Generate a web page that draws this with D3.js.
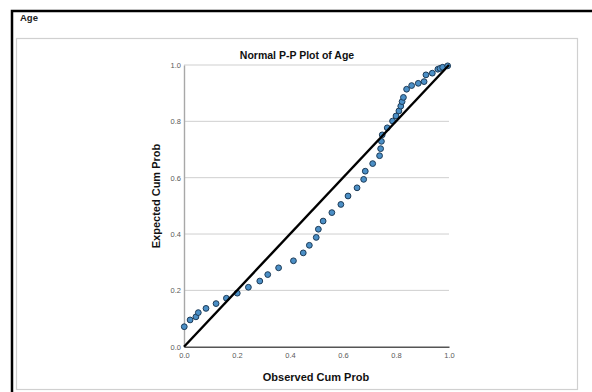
<!DOCTYPE html>
<html>
<head>
<meta charset="utf-8">
<script src="https://cdn.jsdelivr.net/npm/d3@7"></script>
<style>
  html, body { margin: 0; padding: 0; background: #fff; }
  svg { display: block; font-family: Arial, "Liberation Sans", sans-serif; }
</style>
</head>
<body>
<div id="chart"></div>
<script>
// observed cumulative probability vs expected cumulative probability
const observed = [0.001, 0.023, 0.045, 0.054, 0.083, 0.121, 0.160, 0.201, 0.243, 0.286,
    0.316, 0.357, 0.413, 0.450, 0.473, 0.499, 0.507, 0.525, 0.558, 0.592,
    0.619, 0.653, 0.678, 0.684, 0.712, 0.738, 0.742, 0.745, 0.748, 0.767,
    0.787, 0.800, 0.811, 0.818, 0.823, 0.828, 0.840, 0.859, 0.884, 0.906,
    0.913, 0.937, 0.958, 0.966, 0.976, 0.995];
const expected = [0.071, 0.095, 0.106, 0.121, 0.136, 0.153, 0.172, 0.190, 0.211, 0.233,
    0.256, 0.280, 0.305, 0.333, 0.360, 0.388, 0.417, 0.446, 0.476, 0.505,
    0.535, 0.564, 0.594, 0.623, 0.650, 0.678, 0.703, 0.729, 0.752, 0.777,
    0.801, 0.819, 0.837, 0.854, 0.870, 0.885, 0.914, 0.927, 0.935, 0.941,
    0.965, 0.971, 0.985, 0.988, 0.992, 0.997];
const ticks = [0, 0.2, 0.4, 0.6, 0.8, 1.0];
const diagonal = [0, 1];

const width = 592;
const height = 392;

const svg = d3.select("#chart")
    .append("svg")
    .attr("width", width)
    .attr("height", height);

// outer black frame (cut off at right and bottom)
svg.append("rect")
    .attr("x", 12).attr("y", 11)
    .attr("width", 600).attr("height", 400)
    .attr("fill", "#fff")
    .attr("stroke", "#000")
    .attr("stroke-width", 2.5);

svg.append("text")
    .attr("x", 20).attr("y", 21)
    .attr("font-size", 9.5)
    .attr("font-weight", "bold")
    .attr("fill", "#222")
    .text("Age");

// inner grey panel
svg.append("rect")
    .attr("x", 16.5).attr("y", 38.5)
    .attr("width", 561).attr("height", 351)
    .attr("fill", "#fff")
    .attr("stroke", "#d0d0d0")
    .attr("stroke-width", 1.2);

const x = d3.scaleLinear([0, 1], [184, 449]);
const y = d3.scaleLinear([0, 1], [346.7, 65]);

// grid lines
svg.append("g")
    .selectAll("line")
    .data(ticks.filter(d => d > 0))
    .join("line")
    .attr("x1", x(0)).attr("x2", x(1))
    .attr("y1", d => y(d)).attr("y2", d => y(d))
    .attr("stroke", "#cfcfcf")
    .attr("stroke-width", 1);

const xAxis = svg.append("g")
    .attr("transform", `translate(0,${y(0)})`)
    .call(d3.axisBottom(x).tickValues(ticks).tickFormat(d3.format(".1f")).tickSize(0).tickPadding(6));
xAxis.select(".domain").attr("stroke", "#555").attr("stroke-width", 1.4);
xAxis.selectAll("text").attr("font-size", 7.5).attr("fill", "#5a5a5a")
    .attr("font-family", "Arial, 'Liberation Sans', sans-serif");

const yAxis = svg.append("g")
    .attr("transform", `translate(${x(0)},0)`)
    .call(d3.axisLeft(y).tickValues(ticks).tickFormat(d3.format(".1f")).tickSize(0).tickPadding(3));
yAxis.select(".domain").attr("stroke", "#a8a8a8").attr("stroke-width", 1.4);
yAxis.selectAll("text").attr("font-size", 7.5).attr("fill", "#5a5a5a")
    .attr("font-family", "Arial, 'Liberation Sans', sans-serif");

svg.append("g")
    .selectAll("circle")
    .data(observed)
    .join("circle")
    .attr("cx", d => x(d))
    .attr("cy", (d, i) => y(expected[i]))
    .attr("r", 2.9)
    .attr("fill", "#4b8fc6")
    .attr("stroke", "#1d3b57")
    .attr("stroke-width", 1);

// reference line, drawn over the points
svg.append("line")
    .attr("x1", x(diagonal[0])).attr("y1", y(diagonal[0]))
    .attr("x2", x(diagonal[1])).attr("y2", y(diagonal[1]))
    .attr("stroke", "#000")
    .attr("stroke-width", 2.4);

svg.append("text")
    .attr("x", 297).attr("y", 59)
    .attr("text-anchor", "middle")
    .attr("font-size", 10.5)
    .attr("font-weight", "bold")
    .attr("fill", "#111")
    .text("Normal P-P Plot of Age");

svg.append("text")
    .attr("x", 316).attr("y", 381)
    .attr("text-anchor", "middle")
    .attr("font-size", 11)
    .attr("font-weight", "bold")
    .attr("fill", "#111")
    .text("Observed Cum Prob");

svg.append("text")
    .attr("transform", "translate(160,196) rotate(-90)")
    .attr("text-anchor", "middle")
    .attr("font-size", 11)
    .attr("font-weight", "bold")
    .attr("fill", "#111")
    .text("Expected Cum Prob");
</script>
</body>
</html>
